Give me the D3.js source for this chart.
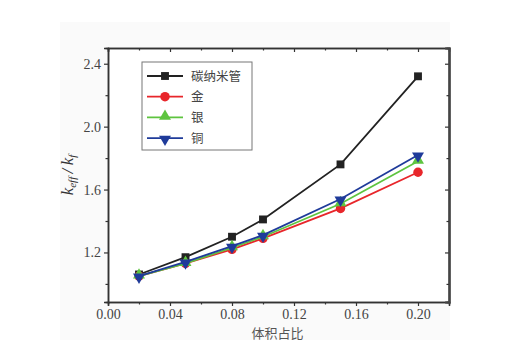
<!DOCTYPE html>
<html><head><meta charset="utf-8">
<script src="https://cdn.jsdelivr.net/npm/d3@7"></script>
<style>body{margin:0;background:#fff}svg{display:block}</style>
</head><body>
<script>
const xValues = [0.02, 0.05, 0.08, 0.10, 0.15, 0.20];
const seriesNames = ["碳纳米管", "金", "银", "铜"];
const cntValues = [1.06, 1.17, 1.30, 1.41, 1.76, 2.32];
const goldValues = [1.05, 1.13, 1.22, 1.29, 1.48, 1.71];
const silverValues = [1.05, 1.13, 1.23, 1.30, 1.51, 1.78];
const copperValues = [1.05, 1.14, 1.24, 1.31, 1.54, 1.82];
const xTicks = [0.00, 0.04, 0.08, 0.12, 0.16, 0.20];
const yTicks = [1.2, 1.6, 2.0, 2.4];
const colors = ["#222222", "#e8262b", "#5ec43f", "#1f3b9a"];
const symbols = [d3.symbolSquare, d3.symbolCircle, d3.symbolTriangle, "tridown"];

const series = [cntValues, goldValues, silverValues, copperValues];

const SERIF = "'Liberation Serif', 'Times New Roman', Times, serif";
const CJK = "'Noto Sans CJK SC', sans-serif";

const W = 507, H = 348;
const L = 108, R = 449, T = 48, B = 302;
const svg = d3.select("body").append("svg").attr("width", W).attr("height", H);

svg.append("rect").attr("x", 60).attr("y", 22).attr("width", 390).attr("height", 318).attr("fill", "#fafafa");

const x = d3.scaleLinear().domain([0, 0.22]).range([L, R]);
const y = d3.scaleLinear().domain([0.885, 2.5]).range([B, T]);

svg.append("rect").attr("x", L).attr("y", T).attr("width", R - L).attr("height", B - T).attr("fill", "#fff");

const axisColor = "#333";

const gx = svg.append("g").attr("transform", `translate(0,${B})`)
  .call(d3.axisBottom(x).tickValues(xTicks).tickFormat(d3.format(".2f")).tickSize(4).tickPadding(3));
const gxMinor = svg.append("g").attr("transform", `translate(0,${B})`)
  .call(d3.axisBottom(x).tickValues(d3.range(0.02, 0.22, 0.04)).tickFormat("").tickSize(2.5));
const gy = svg.append("g").attr("transform", `translate(${L},0)`)
  .call(d3.axisLeft(y).tickValues(yTicks).tickFormat(d3.format(".1f")).tickSize(4).tickPadding(3));
const gyMinor = svg.append("g").attr("transform", `translate(${L},0)`)
  .call(d3.axisLeft(y).tickValues([1.0, 1.4, 1.8, 2.2]).tickFormat("").tickSize(2.5));
const gt = svg.append("g").attr("transform", `translate(0,${T})`)
  .call(d3.axisTop(x).tickValues(xTicks).tickFormat("").tickSize(-4));
const gtMinor = svg.append("g").attr("transform", `translate(0,${T})`)
  .call(d3.axisTop(x).tickValues(d3.range(0.02, 0.22, 0.04)).tickFormat("").tickSize(-2.5));
const gr = svg.append("g").attr("transform", `translate(${R},0)`)
  .call(d3.axisRight(y).tickValues(yTicks).tickFormat("").tickSize(-4));
const grMinor = svg.append("g").attr("transform", `translate(${R},0)`)
  .call(d3.axisRight(y).tickValues([1.0, 1.4, 1.8, 2.2]).tickFormat("").tickSize(-2.5));

[gx, gxMinor, gy, gyMinor, gt, gtMinor, gr, grMinor].forEach(g => {
  g.attr("font-family", SERIF).attr("font-size", 14);
  g.selectAll("path.domain").attr("stroke", axisColor).attr("stroke-width", 1.5);
  g.selectAll(".tick line").attr("stroke", axisColor).attr("stroke-width", 1.2);
  g.selectAll("text").style("font-family", SERIF).style("font-size", "14px").attr("fill", "#444");
});
[gr, grMinor].forEach(g => g.selectAll("path.domain").attr("stroke-width", 2.2).attr("stroke", "#444"));

svg.append("text").style("font-family", CJK).attr("x", (L + R) / 2 - 1).attr("y", 338).attr("text-anchor", "middle")
  .style("font-size", "13px").attr("fill", "#555").text("体积占比");

const yl = svg.append("text").style("font-family", SERIF).attr("transform", `translate(73,${(T + B) / 2}) rotate(-90)`)
  .attr("text-anchor", "middle").style("font-size", "17px").attr("fill", "#333").style("font-style", "italic");
yl.append("tspan").text("k");
yl.append("tspan").style("font-size", "11px").attr("dy", 3).text("eff");
yl.append("tspan").attr("dy", -3).text("\u2009/\u2009");
yl.append("tspan").text("k");
yl.append("tspan").style("font-size", "11px").attr("dy", 3).text("f");

function markerPath(sym, size) {
  if (sym === "tridown") return d3.symbol().type(d3.symbolTriangle).size(size)();
  return d3.symbol().type(sym).size(size)();
}
function drawMarker(g, i, cx, cy) {
  const sizes = [62, 70, 62, 62];
  const p = g.append("path").attr("d", markerPath(symbols[i], sizes[i])).attr("fill", colors[i]);
  if (symbols[i] === "tridown") p.attr("transform", `translate(${cx},${cy + 1}) rotate(180)`);
  else if (symbols[i] === d3.symbolTriangle) p.attr("transform", `translate(${cx},${cy - 1})`);
  else p.attr("transform", `translate(${cx},${cy})`);
}

const line = d3.line().x((d, i) => x(xValues[i])).y(d => y(d));
series.forEach((vals, i) => {
  const g = svg.append("g");
  g.append("path").datum(vals).attr("d", line).attr("fill", "none").attr("stroke", colors[i]).attr("stroke-width", 1.8);
  vals.forEach((v, j) => drawMarker(g, i, x(xValues[j]), y(v)));
});

const lg = svg.append("g");
lg.append("rect").attr("x", 142).attr("y", 62).attr("width", 110).attr("height", 88)
  .attr("fill", "#fff").attr("stroke", "#777").attr("stroke-width", 1);
seriesNames.forEach((name, i) => {
  const ly = 76 + i * 20.7;
  lg.append("line").attr("x1", 147).attr("x2", 183).attr("y1", ly).attr("y2", ly)
    .attr("stroke", colors[i]).attr("stroke-width", 1.8);
  drawMarker(lg, i, 165, ly);
  lg.append("text").style("font-family", CJK).attr("x", 191).attr("y", ly + 4.5)
    .style("font-size", "12.5px").attr("fill", "#444").text(name);
});
</script>
</body></html>
